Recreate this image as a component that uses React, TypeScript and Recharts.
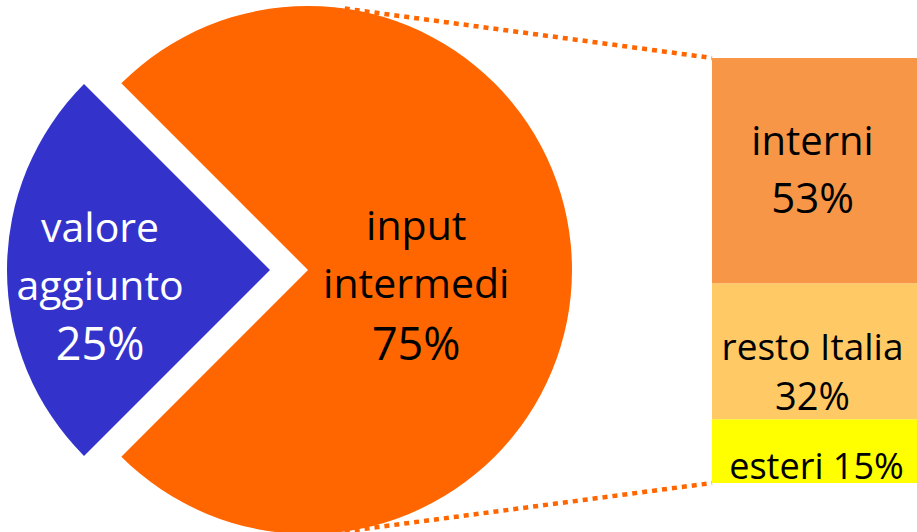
import React from 'react'
import { PieChart, Pie, Cell, BarChart, Bar, XAxis, YAxis, LabelList } from 'recharts'

// ── Dati ─────────────────────────────────────────────────────────────────────

const PIE_NAMES = ['valore aggiunto', 'input intermedi']
const PIE_VALUES = [25, 75]
const PIE_COLORS = ['#3333CC', '#FF6600']

// composizione degli input intermedi (dal basso verso l'alto)
const BAR_KEYS = ['esteri', 'resto', 'interni']
const BAR_NAMES = ['esteri', 'resto Italia', 'interni']
const BAR_VALUES = [15, 32, 53]
const BAR_COLORS = ['#FFFF00', '#FFCA66', '#F79646']

// ── Layout ───────────────────────────────────────────────────────────────────

const W = 917
const H = 532
const PIE_CX = 308
const PIE_CY = 270
const PIE_R = 264
const EXPLODE = 38
const BAR_X = 712
const BAR_Y = 58
const BAR_W = 205
const BAR_H = 425
const BAR_PAD = 40 // spazio sotto la barra, per l'etichetta in basso
const FONT = '"Open Sans", "Noto Sans", sans-serif'

const pieData = PIE_NAMES.map((name, i) => ({ name, value: PIE_VALUES[i] }))

const barRow: Record<string, string | number> = { name: 'input intermedi' }
BAR_KEYS.forEach((k, i) => { barRow[k] = BAR_VALUES[i] })
const barData = [barRow]

// ── Etichette ────────────────────────────────────────────────────────────────

const RAD = Math.PI / 180

function makePieLabel(visible: number) {
  return (props: any) => {
    if (props.index !== visible) return null
    const { cx, cy, midAngle, outerRadius } = props
    const k = visible === 0 ? 0.646 : 0.41
    const x = cx + Math.cos(-midAngle * RAD) * outerRadius * k
    const words = PIE_NAMES[visible].split(' ')
    const pct = `${PIE_VALUES[visible]}%`
    const color = visible === 0 ? '#FFFFFF' : '#000000'
    const d = visible === 0 ? [-28, 30, 90] : [-30, 28, 90]
    return (
      <g fontFamily={FONT} fill={color} textAnchor="middle">
        <text x={x} y={cy + d[0]} fontSize={41}>{words[0]}</text>
        <text x={x} y={cy + d[1]} fontSize={41}>{words[1]}</text>
        <text x={x} y={cy + d[2]} fontSize={45}>{pct}</text>
      </g>
    )
  }
}

function makeBarLabel(i: number) {
  return (props: any) => {
    const vb = props.viewBox ?? props
    const { x, y, width } = vb
    const cx = x + width / 2
    const name = BAR_NAMES[i]
    const pct = `${BAR_VALUES[i]}%`
    if (i === 0) {
      return (
        <text x={cx + 2} y={y + 60} fontFamily={FONT} fontSize={36} textAnchor="middle" fill="#000">
          {`${name} ${pct}`}
        </text>
      )
    }
    const d = i === 2 ? [97, 155] : [77, 127]
    const fs = i === 2 ? [40, 42] : [37, 38]
    return (
      <g fontFamily={FONT} textAnchor="middle" fill="#000">
        <text x={cx - 2} y={y + d[0]} fontSize={fs[0]}>{name}</text>
        <text x={cx - 2} y={y + d[1]} fontSize={fs[1]}>{pct}</text>
      </g>
    )
  }
}

// ── Componente ───────────────────────────────────────────────────────────────

export default function App() {
  const a = 82 * RAD
  const px = PIE_CX + Math.cos(a) * PIE_R
  const pyTop = PIE_CY - Math.sin(a) * PIE_R
  const pyBot = PIE_CY + Math.sin(a) * PIE_R

  return (
    <div style={{ position: 'absolute', left: 0, top: 0, width: W, height: H, background: '#fff', overflow: 'hidden' }}>
      <div style={{ position: 'absolute', left: 0, top: 0 }}>
        <PieChart width={W} height={H} margin={{ top: 0, right: 0, bottom: 0, left: 0 }}>
          {/* fetta esplosa: valore aggiunto */}
          <Pie
            data={pieData}
            dataKey="value"
            nameKey="name"
            cx={PIE_CX - EXPLODE}
            cy={PIE_CY}
            outerRadius={PIE_R - 1}
            startAngle={135}
            endAngle={495}
            stroke="none"
            labelLine={false}
            label={makePieLabel(0)}
            isAnimationActive={false}
          >
            {pieData.map((_, i) => (
              <Cell key={i} fill={i === 0 ? PIE_COLORS[0] : 'transparent'} />
            ))}
          </Pie>
          {/* input intermedi */}
          <Pie
            data={pieData}
            dataKey="value"
            nameKey="name"
            cx={PIE_CX}
            cy={PIE_CY}
            outerRadius={PIE_R}
            startAngle={135}
            endAngle={495}
            stroke="none"
            labelLine={false}
            label={makePieLabel(1)}
            isAnimationActive={false}
          >
            {pieData.map((_, i) => (
              <Cell key={i} fill={i === 1 ? PIE_COLORS[1] : 'transparent'} />
            ))}
          </Pie>
        </PieChart>
      </div>

      <div style={{ position: 'absolute', left: BAR_X, top: BAR_Y }}>
        <BarChart
          width={BAR_W}
          height={BAR_H + BAR_PAD}
          data={barData}
          margin={{ top: 0, right: 0, bottom: BAR_PAD, left: 0 }}
          barCategoryGap={0}
        >
          <XAxis dataKey="name" hide />
          <YAxis hide domain={[0, 100]} />
          {BAR_KEYS.map((k, i) => (
            <Bar key={k} dataKey={k} stackId="a" fill={BAR_COLORS[i]} isAnimationActive={false}>
              <LabelList dataKey={k} content={makeBarLabel(i)} />
            </Bar>
          ))}
        </BarChart>
      </div>

      {/* linee di collegamento */}
      <svg width={W} height={H} style={{ position: 'absolute', left: 0, top: 0, pointerEvents: 'none' }}>
        <line x1={px} y1={pyTop} x2={BAR_X} y2={BAR_Y} stroke="#FF6600" strokeWidth={4.5} strokeDasharray="5 5" />
        <line x1={px} y1={pyBot} x2={BAR_X} y2={BAR_Y + BAR_H} stroke="#FF6600" strokeWidth={4.5} strokeDasharray="5 5" />
      </svg>
    </div>
  )
}
